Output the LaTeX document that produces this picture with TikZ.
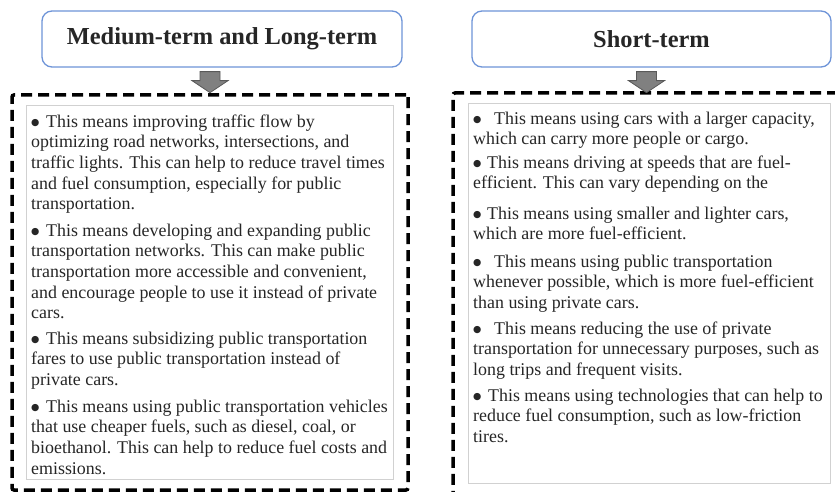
\documentclass[tikz,border=0pt]{standalone}
\usepackage{fontspec}
\setmainfont{Liberation Serif}
\newfontfamily\dotfont{DejaVu Sans}
\usetikzlibrary{calc}
\definecolor{headblue}{HTML}{6E94D8}
% round bullet followed by a gap of the given width
\newcommand\bul[1]{\makebox[#1][l]{\raisebox{2pt}{\dotfont\fontsize{9.5}{10}\selectfont ●}}}
\begin{document}
\begin{tikzpicture}[x=1pt,y=-1pt,
  header/.style={draw=headblue, line width=1.3pt, rounded corners=10pt, fill=white,
    minimum width=360pt, minimum height=56pt, inner sep=0pt,
    font=\fontsize{24.4}{28}\selectfont\bfseries, text=black!85},
  frame/.style={draw=black, line width=3.5pt, dash pattern=on 11pt off 6pt,
    rounded corners=2pt, inner sep=0pt},
  panel/.style={draw=black!18, line width=0.8pt, fill=white, inner sep=0pt},
  para/.style={anchor=north west, inner sep=0pt, align=left,
    font=\fontsize{17.9}{20.7}\selectfont, text=black!85},
  blockarrow/.style={fill=black!50, draw=black!65, line width=0.8pt, line join=miter}
]
\clip (0,0) rectangle (835,492);
\fill[white] (0,0) rectangle (835,492);

% headers
\node[header] (hl) at (222,39) {Medium-term and Long-term};
\node[header, minimum width=359pt] (hr) at (651.5,39) {Short-term};

% dashed frames and inner panels
\node[panel, minimum width=367pt, minimum height=374pt] (pl) at (209.5,292) {};
\node[panel, minimum width=362pt, minimum height=380pt] (pr) at (649,293) {};
\node[frame, minimum width=396pt, minimum height=395pt] (fl) at (210,292.5) {};
\node[frame, minimum width=387pt, minimum height=401pt] (fr) at (646.5,293.5) {};

% block arrows from headers to frames
\foreach \h/\f in {hl/fl, hr/fr}{
  \coordinate (t) at (\f.north |- \h.south);
  \draw[blockarrow] ($(t)+(-10,4)$) -- ($(t)+(10,4)$) -- ($(t)+(10,13)$)
    -- ($(t)+(18,13)$) -- ($(t)+(0,25)$) -- ($(t)+(-18,13)$)
    -- ($(t)+(-10,13)$) -- cycle;
}

% medium- and long-term measures
\node[para] (l1) at (31,112.5) {\strut\bul{15pt}This means improving traffic flow by\\
optimizing road networks, intersections, and\\
traffic lights. This can help to reduce travel times\\
and fuel consumption, especially for public\\
transportation.};
\node[para] (l2) at (31,221.5) {\strut\bul{15pt}This means developing and expanding public\\
transportation networks. This can make public\\
transportation more accessible and convenient,\\
and encourage people to use it instead of private\\
cars.};
\node[para] (l3) at (31,329.5) {\strut\bul{15pt}This means subsidizing public transportation\\
fares to use public transportation instead of\\
private cars.};
\node[para] (l4) at (31,397.5) {\strut\bul{15pt}This means using public transportation vehicles\\
that use cheaper fuels, such as diesel, coal, or\\
bioethanol. This can help to reduce fuel costs and\\
emissions.};

% short-term measures
\node[para] (r1) at (473,109.5) {\strut\bul{21pt}This means using cars with a larger capacity,\\
which can carry more people or cargo.};
\node[para] (r2) at (473,153.5) {\strut\bul{14pt}This means driving at speeds that are fuel-\\
efficient. This can vary depending on the};
\node[para] (r3) at (473,204.5) {\strut\bul{14pt}This means using smaller and lighter cars,\\
which are more fuel-efficient.};
\node[para] (r4) at (473,252.5) {\strut\bul{21pt}This means using public transportation\\
whenever possible, which is more fuel-efficient\\
than using private cars.};
\node[para] (r5) at (473,319.5) {\strut\bul{21pt}This means reducing the use of private\\
transportation for unnecessary purposes, such as\\
long trips and frequent visits.};
\node[para] (r6) at (473,386.5) {\strut\bul{15pt}This means using technologies that can help to\\
reduce fuel consumption, such as low-friction\\
tires.};
\end{tikzpicture}
\end{document}
